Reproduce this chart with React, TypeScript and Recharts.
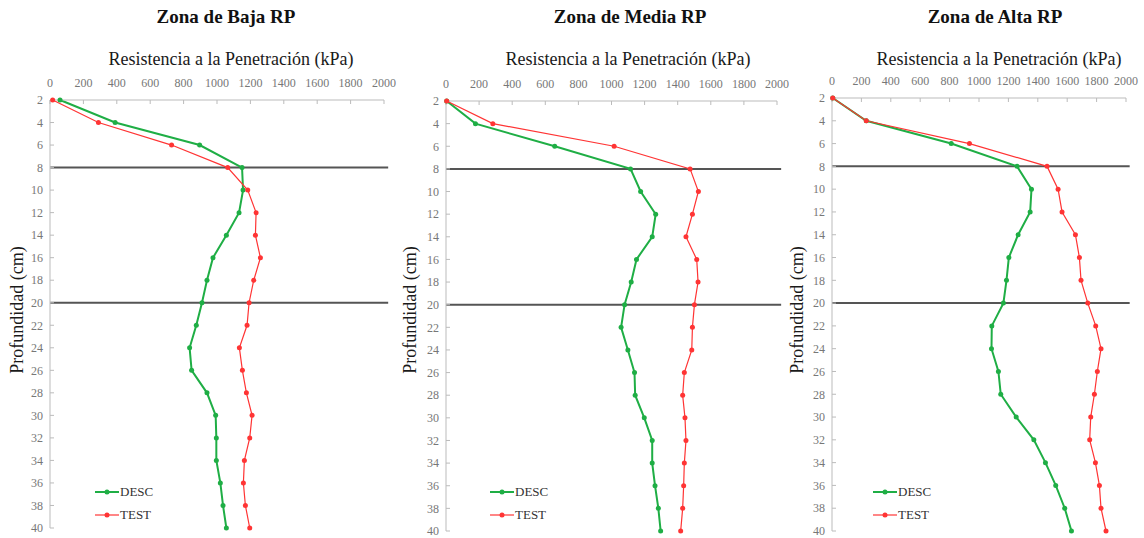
import { LineChart, Line, XAxis, YAxis, ReferenceLine, Legend } from 'recharts'

// profundidad (cm)
const depths = [2, 4, 6, 8, 10, 12, 14, 16, 18, 20, 22, 24, 26, 28, 30, 32, 34, 36, 38, 40]
const kpaTicks = [0, 200, 400, 600, 800, 1000, 1200, 1400, 1600, 1800, 2000]

// Zona de Baja RP
const bajaDesc = [60, 390, 896, 1150, 1156, 1132, 1056, 976, 940, 910, 876, 836, 848, 940, 992, 996, 996, 1020, 1036, 1056]
const bajaTest = [16, 290, 728, 1064, 1184, 1234, 1230, 1260, 1220, 1192, 1180, 1134, 1152, 1176, 1210, 1196, 1164, 1158, 1170, 1196]

// Zona de Media RP
const mediaDesc = [4, 178, 657, 1115, 1176, 1267, 1246, 1151, 1119, 1079, 1058, 1099, 1139, 1143, 1198, 1246, 1246, 1263, 1283, 1297]
const mediaTest = [4, 283, 1016, 1475, 1525, 1489, 1450, 1515, 1523, 1501, 1489, 1485, 1440, 1430, 1444, 1450, 1440, 1436, 1430, 1418]

// Zona de Alta RP
const altaDesc = [5, 233, 811, 1259, 1357, 1348, 1266, 1203, 1187, 1166, 1087, 1085, 1132, 1148, 1253, 1373, 1452, 1522, 1583, 1629]
const altaTest = [5, 233, 935, 1463, 1538, 1565, 1656, 1683, 1694, 1740, 1794, 1830, 1805, 1785, 1760, 1753, 1792, 1819, 1830, 1864]

const FONT = "'Liberation Serif', 'DejaVu Serif', serif"
const GREEN = '#1fae45'
const RED = '#ff3434'

const toRows = (desc: number[], test: number[]) =>
  depths.map((d, i) => ({ depth: d, DESC: desc[i], TEST: test[i] }))

const renderLegend = (props: any) => {
  const { payload = [] } = props
  return (
    <div style={{ fontFamily: FONT, fontSize: 13, color: '#333' }}>
      {payload.map((item: any) => (
        <div key={item.value} style={{ display: 'flex', alignItems: 'center', height: 23 }}>
          <svg width={24} height={10} style={{ marginRight: 1 }}>
            <line x1={0} y1={5} x2={24} y2={5} stroke={item.color} strokeWidth={item.value === 'DESC' ? 2 : 1.2} />
            <circle cx={12} cy={5} r={2.5} fill={item.color} />
          </svg>
          <span>{item.value}</span>
        </div>
      ))}
    </div>
  )
}

type PanelProps = {
  title: string
  desc: number[]
  test: number[]
  left: number
  width: number
  top: number
  bottom: number
  legendLeft: number
  titleCenter: number
  axisTitleCenter: number
  ylabelX: number
}

const Panel = ({ title, desc, test, left, width, top, bottom, legendLeft, titleCenter, axisTitleCenter, ylabelX }: PanelProps) => {
  const data = toRows(desc, test)
  return (
    <>
      <div
        style={{
          position: 'absolute', left: titleCenter - 200, width: 400, top: 6, textAlign: 'center',
          fontFamily: FONT, fontWeight: 'bold', fontSize: 19, color: '#111',
        }}
      >
        {title}
      </div>
      <div
        style={{
          position: 'absolute', left: axisTitleCenter - 200, width: 400, top: 49, textAlign: 'center',
          fontFamily: FONT, fontSize: 18, color: '#1a1a1a',
        }}
      >
        Resistencia a la Penetración (kPa)
      </div>
      <div
        style={{
          position: 'absolute', left: ylabelX - 100, width: 200, top: 300, textAlign: 'center',
          transform: 'rotate(-90deg)', fontFamily: FONT, fontSize: 18, color: '#1a1a1a', lineHeight: '20px',
        }}
      >
        Profundidad (cm)
      </div>
      <div style={{ position: 'absolute', left, top: 0 }}>
        <LineChart
          width={width + 14}
          height={538}
          data={data}
          layout="vertical"
          margin={{ top: top - 30, right: 20, bottom: 538 - bottom, left: 20 }}
          style={{ fontFamily: FONT }}
        >
          <XAxis
            type="number"
            orientation="top"
            domain={[0, 2000]}
            ticks={kpaTicks}
            height={30}
            stroke="#bbb"
            tickSize={-4}
            tickMargin={17}
            tick={{ fontSize: 12, fill: '#777', fontFamily: FONT }}
            interval={0}
          />
          <YAxis
            type="number"
            dataKey="depth"
            domain={[2, 40]}
            ticks={depths}
            width={30}
            stroke="#bbb"
            tickSize={-4}
            tickMargin={11}
            tick={{ fontSize: 12, fill: '#777', fontFamily: FONT }}
            interval={0}
          />
          <ReferenceLine
            segment={[{ x: 0, y: 8 }, { x: 2025, y: 8 }]}
            stroke="#555"
            strokeWidth={2}
            ifOverflow="visible"
          />
          <ReferenceLine
            segment={[{ x: 0, y: 20 }, { x: 2025, y: 20 }]}
            stroke="#555"
            strokeWidth={2}
            ifOverflow="visible"
          />
          <Line
            dataKey="DESC"
            name="DESC"
            stroke={GREEN}
            strokeWidth={2}
            dot={{ r: 2.5, fill: GREEN, stroke: GREEN, strokeWidth: 0 }}
            isAnimationActive={false}
          />
          <Line
            dataKey="TEST"
            name="TEST"
            stroke={RED}
            strokeWidth={1.2}
            dot={{ r: 2.5, fill: RED, stroke: RED, strokeWidth: 0 }}
            isAnimationActive={false}
          />
          <Legend
            layout="vertical"
            align="center"
            verticalAlign="middle"
            content={renderLegend}
            wrapperStyle={{ position: 'absolute', left: legendLeft, top: 480, width: 'auto' }}
          />
        </LineChart>
      </div>
    </>
  )
}

const App = () => {
  return (
    <div style={{ position: 'absolute', left: 0, top: 0, width: 1144, height: 538, background: '#fff', overflow: 'hidden' }}>
      <Panel title="Zona de Baja RP" desc={bajaDesc} test={bajaTest} left={0} width={390} top={100} bottom={528} legendLeft={95} titleCenter={226} axisTitleCenter={231} ylabelX={17} />
      <Panel title="Zona de Media RP" desc={mediaDesc} test={mediaTest} left={396} width={387} top={101} bottom={531} legendLeft={94} titleCenter={630} axisTitleCenter={628} ylabelX={410} />
      <Panel title="Zona de Alta RP" desc={altaDesc} test={altaTest} left={782} width={350} top={98} bottom={531} legendLeft={91} titleCenter={995} axisTitleCenter={999} ylabelX={797} />
    </div>
  )
}

export default App
